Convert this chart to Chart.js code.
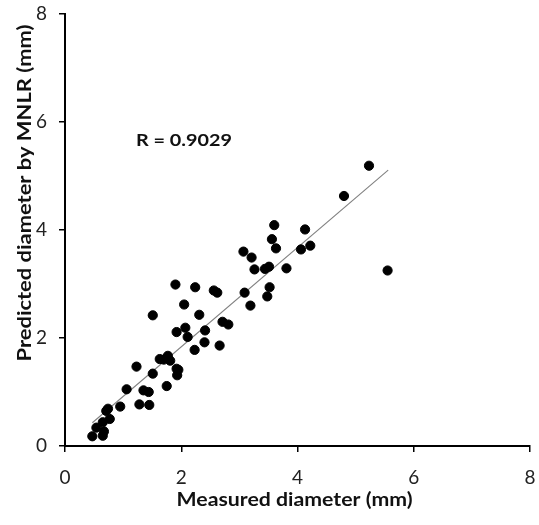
<!DOCTYPE html>
<html>
<head>
<meta charset="utf-8">
<script src="https://cdn.jsdelivr.net/npm/chart.js@4.4.1/dist/chart.umd.min.js"></script>
<style>
  html, body { margin: 0; padding: 0; background: #fff; }
  #wrap { width: 539px; height: 525px; }
</style>
</head>
<body>
<div id="wrap"><canvas id="scatter" width="539" height="525"></canvas></div>
<script>
// measured diameter (mm) and MNLR prediction (mm)
const measured = [
  0.47, 0.65, 0.67, 0.54, 0.65, 0.77, 0.71, 0.74, 0.95, 1.28,
  1.45, 1.06, 1.35, 1.44, 1.75, 1.51, 1.23, 1.63, 1.70, 1.77,
  1.81, 1.92, 1.95, 1.93, 2.23, 1.92, 2.07, 2.11, 2.05, 1.51,
  2.31, 1.90, 2.24, 2.56, 2.62, 2.41, 2.40, 2.66, 2.71, 2.81,
  3.19, 3.09, 3.48, 3.52, 3.07, 3.21, 3.26, 3.44, 3.51, 3.81,
  3.60, 3.56, 3.63, 4.06, 4.22, 4.13, 4.80, 5.23, 5.55
];
const predicted = [
  0.18, 0.19, 0.27, 0.34, 0.44, 0.50, 0.65, 0.69, 0.73, 0.77,
  0.76, 1.05, 1.03, 1.00, 1.11, 1.34, 1.47, 1.61, 1.60, 1.67,
  1.58, 1.43, 1.41, 1.31, 1.78, 2.11, 2.19, 2.02, 2.62, 2.42,
  2.43, 2.99, 2.94, 2.88, 2.84, 2.14, 1.92, 1.86, 2.30, 2.25,
  2.60, 2.84, 2.77, 2.94, 3.60, 3.49, 3.27, 3.28, 3.32, 3.29,
  4.09, 3.83, 3.66, 3.64, 3.71, 4.01, 4.63, 5.19, 3.25
];
// ends of the linear trendline
const trendX = [0.47, 5.56];
const trendY = [0.43, 5.11];
const tickValues = [0, 2, 4, 6, 8];
const rLabel = "R = 0.9029";
const xTitle = "Measured diameter (mm)";
const yTitle = "Predicted diameter by MNLR (mm)";

const points = measured.map((x, i) => ({ x: x, y: predicted[i] }));
const trend = trendX.map((x, i) => ({ x: x, y: trendY[i] }));

const fontFamily = "Lato, 'Open Sans', sans-serif";

// bold centred text at a given size, stretched along its run to a set width
function stretchText(c, text, size, width) {
  c.font = "bold " + size + "px " + fontFamily;
  const w = c.measureText(text).width;
  c.scale(width / w, 1);
  c.fillText(text, 0, 0);
}

// R value and the two axis titles
const labels = {
  id: "labels",
  afterDraw(chart) {
    const c = chart.ctx;
    const area = chart.chartArea;
    c.fillStyle = "#111";
    c.textBaseline = "middle";
    c.textAlign = "center";

    c.save();
    c.translate(chart.scales.x.getPixelForValue(1.22) + 48, chart.scales.y.getPixelForValue(5.66));
    stretchText(c, rLabel, 17.5, 96);
    c.restore();

    c.save();
    c.translate((area.left + area.right) / 2 - 3, 500);
    stretchText(c, xTitle, 19.5, 236);
    c.restore();

    c.save();
    c.translate(25, 193);
    c.rotate(-Math.PI / 2);
    stretchText(c, yTitle, 19.5, 337);
    c.restore();
  }
};

new Chart(document.getElementById("scatter"), {
  type: "scatter",
  data: {
    datasets: [
      {
        label: "trend",
        data: trend,
        showLine: true,
        borderColor: "#808080",
        borderWidth: 1.1,
        pointRadius: 0,
        order: 2
      },
      {
        label: "data",
        data: points,
        backgroundColor: "#000",
        borderColor: "#000",
        pointRadius: 4.6,
        order: 1
      }
    ]
  },
  options: {
    responsive: false,
    animation: false,
    layout: { padding: { top: 14, right: 9, left: 0, bottom: 0 } },
    plugins: { legend: { display: false }, tooltip: { enabled: false } },
    scales: {
      x: {
        type: "linear",
        min: 0,
        max: 8,
        afterBuildTicks: (s) => { s.ticks = tickValues.map(v => ({ value: v })); },
        afterFit: (s) => { s.height = 79; s.paddingLeft = 0; s.paddingRight = 0; },
        grid: { drawOnChartArea: false, drawTicks: true, tickLength: 6, color: "#000", lineWidth: 1.5 },
        border: { color: "#000", width: 2 },
        ticks: { color: "#222", font: { family: fontFamily, size: 19 }, padding: 14 }
      },
      y: {
        type: "linear",
        min: 0,
        max: 8,
        afterBuildTicks: (s) => { s.ticks = tickValues.map(v => ({ value: v })); },
        afterFit: (s) => { s.width = 65; s.paddingTop = 0; s.paddingBottom = 0; },
        grid: { drawOnChartArea: false, drawTicks: true, tickLength: 6, color: "#000", lineWidth: 1.5 },
        border: { color: "#000", width: 2 },
        ticks: { color: "#222", font: { family: fontFamily, size: 19 }, padding: 12 }
      }
    }
  },
  plugins: [labels]
});
</script>
</body>
</html>
